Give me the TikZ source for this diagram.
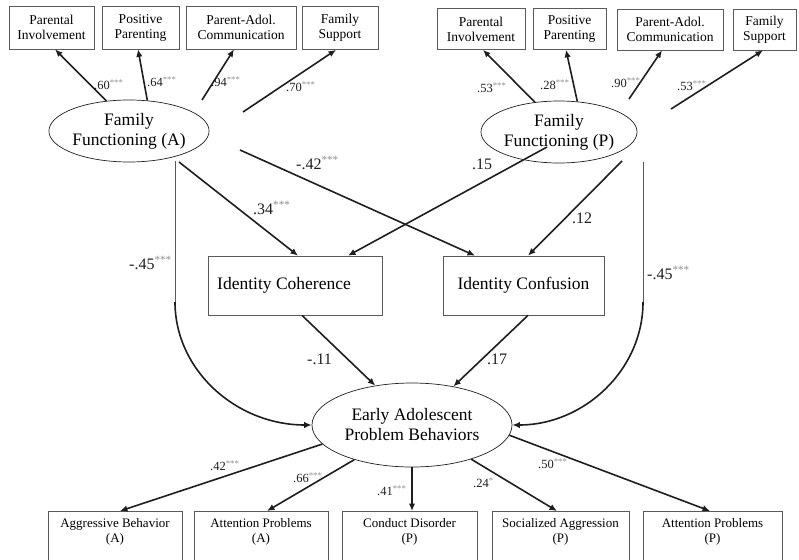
\documentclass[tikz,border=0pt]{standalone}
\usepackage{fontspec}
\setmainfont{Liberation Serif}
\usepackage{tikz}
\usepackage{xcolor}
\usetikzlibrary{positioning, arrows.meta, shapes.geometric}
\definecolor{semline}{RGB}{30, 30, 30}
\definecolor{semgray}{RGB}{90, 90, 90}
\definecolor{semstar}{RGB}{140, 140, 140}
\newcommand{\stars}[1]{\textsuperscript{\color{semstar}#1}}
\tikzset{
    indbox/.style={rectangle, draw=semgray, line width=0.7pt, inner sep=0pt, align=center, font=\fontsize{13.5}{15}\selectfont},
    latent/.style={ellipse, draw=semline, line width=0.7pt, inner sep=0pt, align=center, font=\fontsize{17.5}{20}\selectfont},
    idbox/.style={rectangle, draw=semgray, line width=0.7pt, inner sep=0pt, minimum height=59pt, font=\fontsize{17.5}{20}\selectfont},
    outbox/.style={rectangle, draw=semgray, line width=0.7pt, inner sep=0pt, anchor=north, font=\fontsize{13}{15}\selectfont},
    effect/.style={draw=semline, line width=1.6pt, -{Latex[length=7.5pt, width=6.5pt]}},
    thinpath/.style={draw=semgray, line width=0.8pt},
    loadlbl/.style={anchor=west, inner sep=0pt, text=semline, font=\fontsize{12.5}{14}\selectfont},
    pathlbl/.style={anchor=west, inner sep=0pt, text=semline, font=\fontsize{16}{18}\selectfont}
}

\begin{document}
\begin{tikzpicture}[x=1pt, y=-1pt]
    \path[use as bounding box, clip] (0,0) rectangle (799,559);

    \node[indbox, minimum width=85pt, minimum height=43pt] (piA) at (51.5,27.5) {Parental\\Involvement};
    \node[indbox, minimum width=77pt, minimum height=43pt] (ppA) at (140.5,27.5) {Positive\\Parenting};
    \node[indbox, minimum width=110pt, minimum height=43pt] (paA) at (241,27.5) {Parent-Adol.\\Communication};
    \node[indbox, minimum width=76pt, minimum height=43pt] (fsA) at (340,28) {Family\\Support};

    \node[indbox, minimum width=88pt, minimum height=41pt] (piP) at (481,29) {Parental\\Involvement};
    \node[indbox, minimum width=73pt, minimum height=41pt] (ppP) at (569.5,29) {Positive\\Parenting};
    \node[indbox, minimum width=106pt, minimum height=41pt] (paP) at (670,29.5) {Parent-Adol.\\Communication};
    \node[indbox, minimum width=63pt, minimum height=41pt] (fsP) at (764.5,29.5) {Family\\Support};

    \node[latent, minimum width=152pt, minimum height=62pt] (ffA) at (129,131) {Family\\Functioning (A)};
    \node[latent, minimum width=153pt, minimum height=62pt] (ffP) at (559,132) {Family\\Functioning (P)};

    \node[idbox, minimum width=174pt] (idCoh) at (295,285.5) {Identity Coherence\rule{22pt}{0pt}};
    \node[idbox, minimum width=161pt] (idCon) at (523.5,285.5) {Identity Confusion};

    \node[latent, minimum width=200pt, minimum height=84pt] (ep) at (412,425) {Early Adolescent\\Problem Behaviors};

    \node[outbox] (agA) at (115,511) {\parbox[t][58pt][t]{134pt}{\centering\vspace*{7pt}Aggressive Behavior\\(A)}};
    \node[outbox] (apA) at (261,511) {\parbox[t][58pt][t]{134pt}{\centering\vspace*{7pt}Attention Problems\\(A)}};
    \node[outbox] (cdP) at (409.5,511) {\parbox[t][58pt][t]{135pt}{\centering\vspace*{7pt}Conduct Disorder\\(P)}};
    \node[outbox] (saP) at (560.5,511) {\parbox[t][58pt][t]{137pt}{\centering\vspace*{7pt}Socialized Aggression\\(P)}};
    \node[outbox] (apP) at (712.5,511) {\parbox[t][58pt][t]{139pt}{\centering\vspace*{7pt}Attention Problems\\(P)}};

    \coordinate (a94) at (202,100);
    \coordinate (a70) at (243,112);
    \coordinate (p90) at (629,99);
    \coordinate (p53) at (671,109);
    \coordinate (a34) at (179,162);
    \coordinate (a42) at (240,150);
    \coordinate (p15) at (547,147);
    \coordinate (p12) at (622,161);
    \coordinate (aTop) at (175,161);
    \coordinate (aBend) at (175,302);
    \coordinate (pTop) at (643,162);
    \coordinate (pBend) at (643,302);

    \draw[effect] (ffA.127) -- ([xshift=3.5pt]piA.south);
    \draw[effect] (ffA.59) -- ([xshift=-2.5pt]ppA.south);
    \draw[effect] (a94) -- ([xshift=-7pt]paA.south);
    \draw[effect] (a70) -- ([xshift=-4pt]fsA.south);
    \draw[effect] (ffP.129) -- ([xshift=2pt]piP.south);
    \draw[effect] (ffP.59) -- ([xshift=-3.5pt]ppP.south);
    \draw[effect] (p90) -- ([xshift=-8pt]paP.south);
    \draw[effect] (p53) -- ([xshift=-1.5pt]fsP.south);

    \draw[effect] (a34) -- ([xshift=3pt]idCoh.north);
    \draw[effect] (a42) -- ([xshift=-48.5pt]idCon.north);
    \draw[effect] (p15) -- ([xshift=53pt]idCoh.north);
    \draw[effect] (p12) -- ([xshift=4.5pt]idCon.north);

    \draw[effect] ([xshift=7pt]idCoh.south) -- (ep.133);
    \draw[effect] ([xshift=4.5pt]idCon.south) -- (ep.43);

    \draw[thinpath] (aTop) -- (aBend);
    \draw[effect] (aBend) .. controls (175,370) and (236,425) .. (ep.west);
    \draw[thinpath] (pTop) -- (pBend);
    \draw[effect] (pBend) .. controls (643,370) and (584,425) .. (ep.east);

    \draw[effect] (ep.192) -- ([xshift=5pt]agA.north);
    \draw[effect] (ep.211) -- ([xshift=6pt]apA.north);
    \draw[effect] (ep.south) -- (cdP.north -| ep.south);
    \draw[effect] (ep.-30.5) -- ([xshift=-3.5pt]saP.north);
    \draw[effect] (ep.-6) -- ([xshift=-2.5pt]apP.north);

    \node[loadlbl] (l60) at (94,85) {.60\stars{***}};
    \node[loadlbl] (l64) at (147,82) {.64\stars{***}};
    \node[loadlbl] (l94) at (211,82) {.94\stars{***}};
    \node[loadlbl] (l70) at (286,87) {.70\stars{***}};
    \node[loadlbl] (l53a) at (477,88) {.53\stars{***}};
    \node[loadlbl] (l28) at (540,85) {.28\stars{***}};
    \node[loadlbl] (l90) at (611,83) {.90\stars{***}};
    \node[loadlbl] (l53b) at (677,86) {.53\stars{***}};

    \node[pathlbl] (l34) at (253,208) {.34\stars{***}};
    \node[pathlbl] (l42) at (296,163) {-.42\stars{***}};
    \node[pathlbl] (l15) at (472,164) {.15};
    \node[pathlbl] (l12) at (572,218) {.12};
    \node[pathlbl] (l45a) at (129,263) {-.45\stars{***}};
    \node[pathlbl] (l45b) at (647,273) {-.45\stars{***}};
    \node[pathlbl] (l11) at (307,359) {-.11};
    \node[pathlbl] (l17) at (487,359) {.17};

    \node[loadlbl] (b42) at (210,466) {.42\stars{***}};
    \node[loadlbl] (b66) at (293,478) {.66\stars{***}};
    \node[loadlbl] (b41) at (377,491) {.41\stars{***}};
    \node[loadlbl] (b24) at (473,483) {.24\stars{*}};
    \node[loadlbl] (b50) at (538,464) {.50\stars{***}};
\end{tikzpicture}
\end{document}
